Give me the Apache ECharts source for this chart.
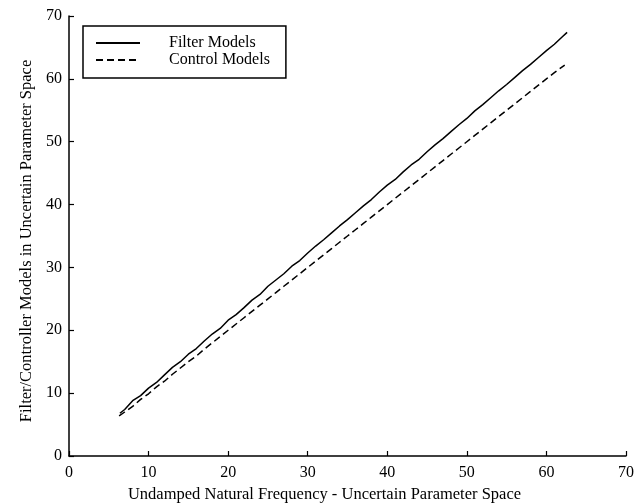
<!DOCTYPE html>
<html>
<head>
	<meta charset="UTF-8">
	<title>Filter / Control Models</title>
	<style type="text/css">
		html, body { margin: 0; padding: 0; background: #fff; }
		.chart { width: 643px; height: 504px; }
	</style>
</head>
<body>
	<div class="chart"></div>
	<script src="https://cdn.jsdelivr.net/npm/echarts@6/dist/echarts.min.js"></script>
	<script type="text/javascript">
		// values
		var filterX = [6.4, 7, 8, 9, 10, 11, 12, 13, 14, 15, 16, 17, 18, 19, 20, 21, 22, 23, 24, 25,
			26, 27, 28, 29, 30, 31, 32, 33, 34, 35, 36, 37, 38, 39, 40, 41, 42, 43, 44, 45,
			46, 47, 48, 49, 50, 51, 52, 53, 54, 55, 56, 57, 58, 59, 60, 61, 62, 62.6];
		var filterY = [6.8, 7.4, 8.8, 9.6, 10.8, 11.7, 12.9, 14.1, 15.0, 16.2, 17.1, 18.3, 19.4, 20.3, 21.6, 22.5, 23.6, 24.8, 25.7, 27.0,
			28.0, 29.0, 30.2, 31.1, 32.3, 33.4, 34.4, 35.5, 36.6, 37.6, 38.7, 39.8, 40.8, 42.0, 43.1, 44.0, 45.2, 46.3, 47.2, 48.4,
			49.5, 50.5, 51.6, 52.7, 53.7, 54.9, 55.9, 57.0, 58.1, 59.1, 60.2, 61.3, 62.3, 63.4, 64.5, 65.5, 66.7, 67.4];
		var controlX = [6.3, 7, 8, 9, 10, 11, 12, 13, 14, 15, 16, 17, 18, 19, 20, 21, 22, 23, 24, 25,
			26, 27, 28, 29, 30, 31, 32, 33, 34, 35, 36, 37, 38, 39, 40, 41, 42, 43, 44, 45,
			46, 47, 48, 49, 50, 51, 52, 53, 54, 55, 56, 57, 58, 59, 60, 61, 62.3];
		var controlY = [6.4, 7.0, 7.9, 9.0, 9.9, 11.0, 11.9, 13.0, 14.0, 15.0, 15.9, 17.0, 18.0, 19.0, 20.0, 21.0, 22.0, 23.0, 24.0, 25.0,
			26.0, 27.0, 28.0, 29.0, 30.0, 31.0, 32.0, 33.0, 34.0, 35.0, 36.0, 37.0, 38.0, 39.0, 40.0, 41.0, 42.0, 43.0, 44.0, 45.0,
			46.0, 47.0, 48.0, 49.0, 50.0, 51.0, 52.0, 53.0, 54.0, 55.0, 56.0, 57.0, 58.0, 59.0, 60.0, 61.0, 62.2];
		var seriesNames = ['Filter Models', 'Control Models'];

		function pairs(xs, ys) {
			var out = [];
			for (var i = 0; i < xs.length; i++) out.push([xs[i], ys[i]]);
			return out;
		}

		var font = 'Liberation Serif, Times New Roman, serif';
		var axisCommon = {
			type: 'value',
			min: 0,
			max: 70,
			interval: 10,
			nameLocation: 'middle',
			axisLine: { show: true, lineStyle: { color: '#000', width: 1.5 } },
			axisTick: { show: true, inside: true, length: 5, lineStyle: { color: '#000', width: 1.2 } },
			axisLabel: { color: '#000', fontFamily: font, fontSize: 16 },
			splitLine: { show: false }
		};

		var chart = echarts.init(document.querySelector('.chart'), null, { renderer: 'canvas' });

		var option = {
			animation: false,
			backgroundColor: '#fff',
			grid: { left: 69, right: 17, top: 16, bottom: 48, outerBoundsMode: 'none', containLabel: false },
			legend: {
				left: 83,
				top: 26,
				orient: 'vertical',
				data: seriesNames,
				itemWidth: 44,
				itemHeight: 14,
				itemGap: 1,
				padding: [9, 16, 10, 12],
				borderColor: '#000',
				borderWidth: 1.5,
				itemStyle: { opacity: 0 },
				textStyle: { color: '#000', fontFamily: font, fontSize: 16, padding: [0, 0, 0, 24] }
			},
			xAxis: Object.assign({}, axisCommon, {
				name: 'Undamped Natural Frequency - Uncertain Parameter Space',
				nameGap: 29,
				nameTextStyle: { color: '#000', fontFamily: font, fontSize: 16.5, padding: [0, 46, 0, 0] },
				axisLabel: Object.assign({}, axisCommon.axisLabel, { margin: 9 })
			}),
			yAxis: Object.assign({}, axisCommon, {
				name: 'Filter/Controller Models in Uncertain Parameter Space',
				nameGap: 30,
				nameTextStyle: { color: '#000', fontFamily: font, fontSize: 16.5, padding: [0, 10, 0, 0] },
				axisLabel: Object.assign({}, axisCommon.axisLabel, { margin: 7 })
			}),
			series: [{
				name: seriesNames[0],
				type: 'line',
				symbol: 'none',
				data: pairs(filterX, filterY),
				itemStyle: { color: '#000' },
				lineStyle: { color: '#000', width: 1.5, type: 'solid' }
			}, {
				name: seriesNames[1],
				type: 'line',
				symbol: 'none',
				data: pairs(controlX, controlY),
				itemStyle: { color: '#000' },
				lineStyle: { color: '#000', width: 1.5, type: [7, 4] }
			}]
		};

		chart.setOption(option);
	</script>
</body>
</html>
